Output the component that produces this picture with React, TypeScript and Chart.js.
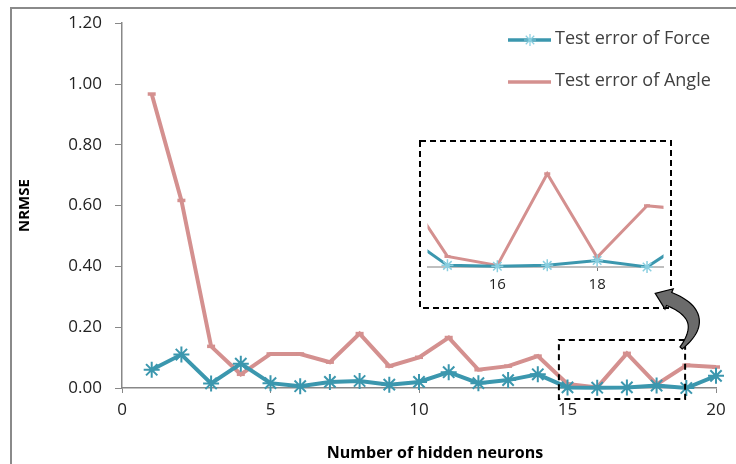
import React, { useEffect, useRef } from 'react';
import { Chart, registerables } from 'chart.js';

Chart.register(...registerables);

// ---------------- data ----------------
const neurons = [1, 2, 3, 4, 5, 6, 7, 8, 9, 10, 11, 12, 13, 14, 15, 16, 17, 18, 19, 20];
const forceError = [0.06, 0.11, 0.015, 0.08, 0.016, 0.006, 0.02, 0.023, 0.011, 0.02, 0.052, 0.016, 0.026, 0.045, 0.002, 0.001, 0.002, 0.008, 0.0, 0.04];
const angleError = [0.967, 0.617, 0.137, 0.045, 0.112, 0.112, 0.085, 0.179, 0.072, 0.101, 0.166, 0.06, 0.072, 0.105, 0.013, 0.002, 0.114, 0.012, 0.075, 0.069];
const seriesNames = ['Test error of Force', 'Test error of Angle'];
const xTitle = 'Number of hidden neurons';
const yTitle = 'NRMSE';
const insetTickValues = [16, 18];
const insetXRange = [14.6, 19.33];
const insetYRange = [0, 0.145];
const zoomBoxX = [14.71, 18.96];
const zoomBoxY = [-0.036, 0.158];

// ---------------- styles / layout ----------------
const W = 736;
const H = 464;
const BLUE = '#3B97AE';
const BLUE_LIGHT = '#8ACFE0';
const RED = '#D4908F';
const FONT = '"Open Sans"';
const INSET = { left: 420, top: 141, width: 251, height: 167 };

const pts = (ys: number[]) => neurons.map((x, i) => ({ x, y: ys[i] }));

function drawStar(ctx: CanvasRenderingContext2D, x: number, y: number, r: number) {
  ctx.beginPath();
  for (let k = 0; k < 4; k++) {
    const a = (k * Math.PI) / 4;
    ctx.moveTo(x - Math.cos(a) * r, y - Math.sin(a) * r);
    ctx.lineTo(x + Math.cos(a) * r, y + Math.sin(a) * r);
  }
  ctx.stroke();
}

const decorPlugin = {
  id: 'decor',
  afterDatasetsDraw(chart: any) {
    const { ctx, scales, chartArea } = chart;
    const xs = scales.x;
    const ys = scales.y;
    ctx.save();
    // zoom box on main chart
    ctx.setLineDash([6, 4]);
    ctx.lineWidth = 2;
    ctx.strokeStyle = '#000';
    const bx0 = xs.getPixelForValue(zoomBoxX[0]);
    const bx1 = xs.getPixelForValue(zoomBoxX[1]);
    const by0 = ys.getPixelForValue(zoomBoxY[1]);
    const by1 = ys.getPixelForValue(zoomBoxY[0]);
    ctx.strokeRect(bx0, by0, bx1 - bx0, by1 - by0);
    // inset frame
    ctx.strokeRect(INSET.left, INSET.top, INSET.width, INSET.height);
    ctx.setLineDash([]);

    // curved arrow
    const p0 = { x: bx1 - 4, y: by0 + 8 };
    const p1 = { x: bx1 + 26, y: by0 - 24 };
    const p2 = { x: bx1 - 16, y: by0 - 41 };
    const N = 30;
    const left: { x: number; y: number }[] = [];
    const right: { x: number; y: number }[] = [];
    let nEnd = { x: 0, y: 0 };
    for (let i = 0; i <= N; i++) {
      const t = i / N;
      const px = (1 - t) * (1 - t) * p0.x + 2 * (1 - t) * t * p1.x + t * t * p2.x;
      const py = (1 - t) * (1 - t) * p0.y + 2 * (1 - t) * t * p1.y + t * t * p2.y;
      const tx = 2 * (1 - t) * (p1.x - p0.x) + 2 * t * (p2.x - p1.x);
      const ty = 2 * (1 - t) * (p1.y - p0.y) + 2 * t * (p2.y - p1.y);
      const len = Math.hypot(tx, ty);
      const nx = -ty / len;
      const ny = tx / len;
      const w = 1.5 + 5.5 * Math.sin(Math.min(1, t * 1.3) * Math.PI / 2);
      left.push({ x: px + nx * w, y: py + ny * w });
      right.push({ x: px - nx * w, y: py - ny * w });
      if (i === N) nEnd = { x: nx, y: ny };
    }
    const dl = Math.hypot(p2.x - p1.x, p2.y - p1.y);
    const dir = { x: (p2.x - p1.x) / dl, y: (p2.y - p1.y) / dl };
    const tip = { x: p2.x + dir.x * 15, y: p2.y + dir.y * 15 };
    ctx.beginPath();
    ctx.moveTo(left[0].x, left[0].y);
    for (let i = 1; i <= N; i++) ctx.lineTo(left[i].x, left[i].y);
    ctx.lineTo(p2.x + nEnd.x * 11, p2.y + nEnd.y * 11);
    ctx.lineTo(tip.x, tip.y);
    ctx.lineTo(p2.x - nEnd.x * 11, p2.y - nEnd.y * 11);
    for (let i = N; i >= 0; i--) ctx.lineTo(right[i].x, right[i].y);
    ctx.closePath();
    ctx.fillStyle = '#6B6B6B';
    ctx.fill();
    ctx.lineWidth = 1.2;
    ctx.strokeStyle = '#000';
    ctx.stroke();

    // legend
    const rows = [40, 82];
    ctx.font = `18px ${FONT}`;
    ctx.textBaseline = 'middle';
    ctx.textAlign = 'left';
    chart.data.datasets.forEach((ds: any, i: number) => {
      const y = rows[i];
      ctx.lineWidth = 3.5;
      ctx.strokeStyle = ds.borderColor;
      ctx.beginPath();
      ctx.moveTo(508, y);
      ctx.lineTo(551, y);
      ctx.stroke();
      if (i === 0) {
        ctx.lineWidth = 1.2;
        ctx.strokeStyle = BLUE_LIGHT;
        drawStar(ctx, 530, y, 6);
      }
      ctx.fillStyle = '#404040';
      ctx.fillText(ds.label, 555, y - 1);
    });

    // x axis title
    ctx.font = `bold 16px ${FONT}`;
    ctx.fillStyle = '#000';
    ctx.textAlign = 'center';
    ctx.fillText(xTitle, (chartArea.left + chartArea.right) / 2 + 16, 453);
    ctx.restore();
  },
};

export default function App() {
  const mainRef = useRef<HTMLCanvasElement>(null);
  const insetRef = useRef<HTMLCanvasElement>(null);

  useEffect(() => {
    const main = new Chart(mainRef.current!, {
      type: 'line',
      data: {
        datasets: [
          {
            label: seriesNames[0],
            data: pts(forceError),
            borderColor: BLUE,
            backgroundColor: BLUE,
            borderWidth: 4,
            pointStyle: 'star',
            pointRadius: 8,
            pointBorderColor: BLUE,
            pointBorderWidth: 2,
            clip: false as any,
          },
          {
            label: seriesNames[1],
            data: pts(angleError),
            borderColor: RED,
            backgroundColor: RED,
            borderWidth: 4,
            pointStyle: 'line',
            pointRadius: 4,
            pointBorderColor: RED,
            pointBorderWidth: 3.5,
            clip: false as any,
          },
        ],
      },
      options: {
        responsive: false,
        animation: false,
        layout: { padding: { top: 17, right: 20, bottom: 0, left: 0 } },
        plugins: { legend: { display: false }, tooltip: { enabled: false } },
        scales: {
          x: {
            type: 'linear',
            min: 0,
            max: 20,
            ticks: { stepSize: 5, color: '#222', font: { family: FONT, size: 17 }, padding: 7 },
            grid: { display: true, drawOnChartArea: false, tickLength: 5, color: '#888' },
            border: { color: '#888', width: 1.5 },
            afterFit: (s: any) => {
              s.height = 76;
            },
          },
          y: {
            min: 0,
            max: 1.2,
            ticks: {
              stepSize: 0.2,
              color: '#222',
              font: { family: FONT, size: 17 },
              padding: 13,
              callback: (v: any) => Number(v).toFixed(2),
            },
            grid: { display: true, drawOnChartArea: false, tickLength: 7, color: '#888' },
            border: { color: '#888', width: 1.5 },
            title: {
              display: true,
              text: yTitle,
              color: '#000',
              font: { family: FONT, size: 15, weight: 'bold' },
              padding: { top: 16, bottom: 0 },
            },
            afterFit: (s: any) => {
              s.width = 122;
            },
          },
        },
      },
      plugins: [decorPlugin],
    } as any);

    const inset = new Chart(insetRef.current!, {
      type: 'line',
      data: {
        datasets: [
          {
            label: seriesNames[0],
            data: pts(forceError),
            borderColor: BLUE,
            borderWidth: 3,
            pointStyle: 'star',
            pointRadius: 6,
            pointBorderColor: BLUE_LIGHT,
            pointBorderWidth: 1.5,
            clip: { left: 0, top: 0, right: 0, bottom: 8 } as any,
          },
          {
            label: seriesNames[1],
            data: pts(angleError),
            borderColor: RED,
            borderWidth: 3,
            pointStyle: 'line',
            pointRadius: 3,
            pointBorderColor: RED,
            pointBorderWidth: 3,
            clip: { left: 0, top: 0, right: 0, bottom: 8 } as any,
          },
        ],
      },
      options: {
        responsive: false,
        animation: false,
        layout: { padding: 0 },
        plugins: { legend: { display: false }, tooltip: { enabled: false } },
        scales: {
          x: {
            type: 'linear',
            min: insetXRange[0],
            max: insetXRange[1],
            afterBuildTicks: (s: any) => {
              s.ticks = insetTickValues.map((value) => ({ value }));
            },
            ticks: { color: '#222', font: { family: FONT, size: 15 }, padding: 5 },
            grid: { display: true, drawOnChartArea: false, tickLength: 4, color: '#777' },
            border: { color: '#BFBFBF', width: 2 },
            afterFit: (s: any) => {
              s.height = 41;
            },
          },
          y: { display: false, min: insetYRange[0], max: insetYRange[1] },
        },
      },
    } as any);

    return () => {
      main.destroy();
      inset.destroy();
    };
  }, []);

  return (
    <div style={{ position: 'fixed', left: 0, top: 0, width: W, height: H, overflow: 'hidden', background: '#fff' }}>
      <div
        style={{
          position: 'absolute',
          left: 10,
          top: 7,
          width: W,
          height: H,
          borderTop: '2px solid #8A8A8A',
          borderLeft: '2px solid #8A8A8A',
        }}
      />
      <canvas ref={mainRef} width={W} height={H} style={{ position: 'absolute', left: 0, top: 0 }} />
      <canvas
        ref={insetRef}
        width={INSET.width}
        height={INSET.height}
        style={{ position: 'absolute', left: INSET.left, top: INSET.top }}
      />
    </div>
  );
}
